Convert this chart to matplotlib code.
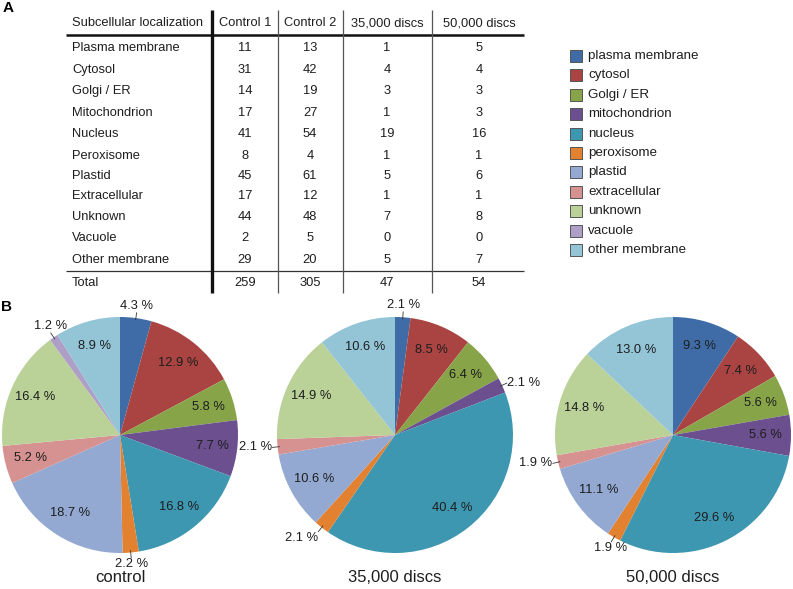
import numpy as np
import matplotlib
matplotlib.use("Agg")
import matplotlib.pyplot as plt
from matplotlib.patches import Rectangle

plt.rcParams['font.family'] = ['Liberation Sans', 'DejaVu Sans']

# ---------------- data ----------------
row_labels = ["Plasma membrane", "Cytosol", "Golgi / ER", "Mitochondrion", "Nucleus",
              "Peroxisome", "Plastid", "Extracellular", "Unknown", "Vacuole", "Other membrane"]
col_headers = ["Subcellular localization", "Control 1", "Control 2", "35,000 discs", "50,000 discs"]
control1 = [11, 31, 14, 17, 41, 8, 45, 17, 44, 2, 29]
control2 = [13, 42, 19, 27, 54, 4, 61, 12, 48, 5, 20]
discs35 = [1, 4, 3, 1, 19, 1, 5, 1, 7, 0, 5]
discs50 = [5, 4, 3, 3, 16, 1, 6, 1, 8, 0, 7]
totals = [259, 305, 47, 54]

legend_labels = ["plasma membrane", "cytosol", "Golgi / ER", "mitochondrion", "nucleus",
                 "peroxisome", "plastid", "extracellular", "unknown", "vacuole", "other membrane"]
colors = ["#3F6CA7", "#A94442", "#87A449", "#6B4F8E", "#3D97B0", "#E2812F",
          "#93A9D2", "#D59291", "#BAD198", "#AD9FC6", "#93C5D7"]

pct_control = [4.3, 12.9, 5.8, 7.7, 16.8, 2.2, 18.7, 5.2, 16.4, 1.2, 8.9]
pct_35k = [2.1, 8.5, 6.4, 2.1, 40.4, 2.1, 10.6, 2.1, 14.9, 0.0, 10.6]
pct_50k = [9.3, 7.4, 5.6, 5.6, 29.6, 1.9, 11.1, 1.9, 14.8, 0.0, 13.0]
pie_titles = ["control", "35,000 discs", "50,000 discs"]

# ---------------- figure ----------------
W, H = 793, 589
fig = plt.figure(figsize=(W / 100, H / 100), dpi=100)
ov = fig.add_axes([0, 0, 1, 1])
ov.set_xlim(0, W)
ov.set_ylim(H, 0)
ov.axis("off")

txt = "#1e1e1e"
fs = 9.3

# panel letters
ov.text(3, 8, "A", fontsize=11, fontweight="bold", ha="left", va="center", color="black")
ov.text(1, 307, "B", fontsize=11, fontweight="bold", ha="left", va="center", color="black")

# ---------------- table ----------------
col_x = [72, 245, 310, 387, 479]
header_y = 23
row_y = [48, 70, 91, 113, 134, 156, 176, 196, 217, 238, 260]
total_y = 283
ov.text(col_x[0], header_y, col_headers[0], fontsize=fs, ha="left", va="center", color=txt)
for cx, h in zip(col_x[1:], col_headers[1:]):
    ov.text(cx, header_y, h, fontsize=fs, ha="center", va="center", color=txt)
for i, lab in enumerate(row_labels):
    ov.text(col_x[0], row_y[i], lab, fontsize=fs, ha="left", va="center", color=txt)
    for cx, series in zip(col_x[1:], [control1, control2, discs35, discs50]):
        ov.text(cx, row_y[i], str(series[i]), fontsize=fs, ha="center", va="center", color=txt)
ov.text(col_x[0], total_y, "Total", fontsize=fs, ha="left", va="center", color=txt)
for cx, t in zip(col_x[1:], totals):
    ov.text(cx, total_y, str(t), fontsize=fs, ha="center", va="center", color=txt)

ov.plot([66, 524], [34.5, 34.5], color="#111111", lw=1.8, solid_capstyle="butt")
ov.plot([66, 524], [271, 271], color="#333333", lw=0.9, solid_capstyle="butt")
ov.plot([212, 212], [10, 293], color="#111111", lw=2.4, solid_capstyle="butt")
for vx in [278, 343, 432]:
    ov.plot([vx, vx], [10, 293], color="#555555", lw=0.9, solid_capstyle="butt")

# ---------------- legend ----------------
leg_y0, leg_dy = 56, 19.4
for i, (lab, c) in enumerate(zip(legend_labels, colors)):
    y = leg_y0 + i * leg_dy
    ov.add_patch(Rectangle((569.5, y - 6), 12.5, 12, facecolor=c, edgecolor="#555555", lw=0.7))
    ov.text(588, y, lab, fontsize=9.6, ha="left", va="center", color=txt)

# ---------------- pies ----------------
R = 118
centers = [(120, 435), (395, 435), (673, 435)]
all_pcts = [pct_control, pct_35k, pct_50k]

for (cx, cy), pcts, title in zip(centers, all_pcts, pie_titles):
    ax = fig.add_axes([(cx - R) / W, 1 - (cy + R) / H, 2 * R / W, 2 * R / H])
    ax.pie(pcts, colors=colors, startangle=90, counterclock=False, radius=1.0,
           wedgeprops=dict(linewidth=0))
    ax.set_xlim(-1, 1)
    ax.set_ylim(-1, 1)
    ax.set_aspect("equal")
    ax.axis("off")
    total = sum(pcts)
    cum = 0.0
    for p in pcts:
        if p <= 0:
            continue
        mid = 90 - (cum + p / 2) / total * 360
        cum += p
        th = np.deg2rad(mid)
        c, s = np.cos(th), np.sin(th)
        label = f"{p:.1f} %"
        if p >= 5:
            ax.text(0.785 * c, 0.785 * s, label, fontsize=fs, ha="center", va="center",
                    color=txt, clip_on=False)
        else:
            ax.plot([0.985 * c, 1.045 * c], [0.985 * s, 1.045 * s], color="#333333",
                    lw=0.6, clip_on=False)
            ha = "left" if c > 0.6 else ("right" if c < -0.6 else "center")
            va = "bottom" if s > 0.6 else ("top" if s < -0.6 else "center")
            ax.text(1.05 * c, 1.05 * s, label, fontsize=fs, ha=ha, va=va, color=txt,
                    clip_on=False)
    ov.text(cx, 578, title, fontsize=12, ha="center", va="center", color=txt)

fig.savefig("out.png", dpi=100)
